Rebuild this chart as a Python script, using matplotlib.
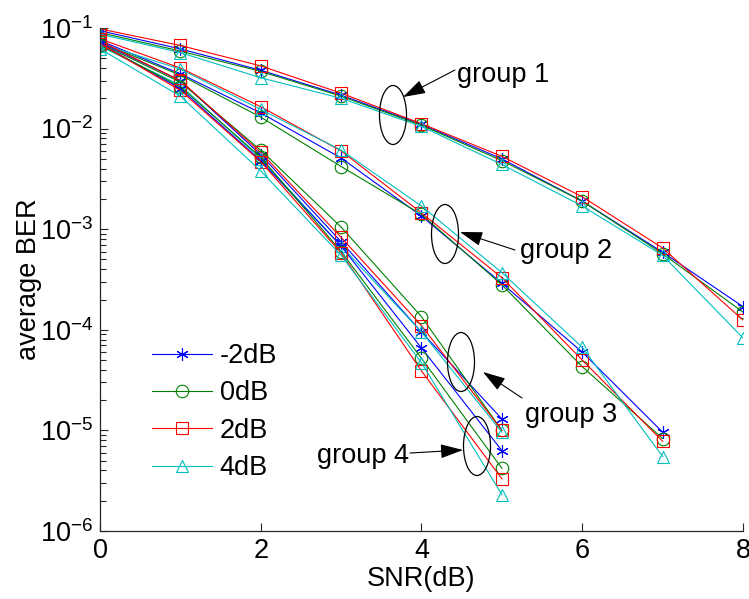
import matplotlib
matplotlib.use('Agg')
import matplotlib.pyplot as plt
from matplotlib.patches import Ellipse

plt.rcParams['font.family'] = ['Liberation Sans', 'DejaVu Sans']
plt.rcParams['mathtext.fontset'] = 'custom'
plt.rcParams['mathtext.rm'] = 'Liberation Sans'
plt.rcParams['mathtext.it'] = 'Liberation Sans:italic'
plt.rcParams['mathtext.bf'] = 'Liberation Sans:bold'
plt.rcParams['axes.unicode_minus'] = False

labels = ['-2dB', '0dB', '2dB', '4dB']

snr1 = [0, 1, 2, 3, 4, 5, 6, 7, 8]
snr2 = [0, 1, 2, 3, 4, 5, 6, 7]
snr3 = [0, 1, 2, 3, 4, 5]
snr4 = [0, 1, 2, 3, 4, 5]

# group 1
g1_m2 = [0.094, 0.062, 0.038, 0.0215, 0.0110, 0.0050, 0.0019, 0.00059, 0.00017]
g1_0 = [0.090, 0.059, 0.037, 0.0210, 0.0108, 0.0048, 0.0019, 0.00057, 0.00015]
g1_2 = [0.098, 0.067, 0.042, 0.0225, 0.0112, 0.0053, 0.0021, 0.00065, 0.000125]
g1_4 = [0.087, 0.057, 0.032, 0.0200, 0.0105, 0.0044, 0.0017, 0.00055, 0.000083]

# group 2
g2_m2 = [0.075, 0.035, 0.0143, 0.0051, 0.00135, 0.00029, 0.000060, 0.0000096]
g2_0 = [0.072, 0.034, 0.0130, 0.0042, 0.00140, 0.00028, 0.000043, 0.0000083]
g2_2 = [0.078, 0.040, 0.0165, 0.0060, 0.00145, 0.00033, 0.000050, 0.0000078]
g2_4 = [0.070, 0.039, 0.0155, 0.0061, 0.00170, 0.00037, 0.000067, 0.0000055]

# group 3
g3_m2 = [0.072, 0.030, 0.0055, 0.00075, 0.000095, 0.000013]
g3_0 = [0.070, 0.029, 0.0061, 0.00105, 0.000135, 0.0000100]
g3_2 = [0.074, 0.030, 0.0058, 0.00083, 0.000110, 0.0000100]
g3_4 = [0.066, 0.027, 0.0050, 0.00068, 0.000095, 0.0000096]

# group 4
g4_m2 = [0.070, 0.025, 0.0048, 0.00068, 0.000066, 0.0000063]
g4_0 = [0.068, 0.026, 0.0052, 0.00060, 0.000052, 0.0000042]
g4_2 = [0.070, 0.024, 0.0047, 0.00058, 0.000039, 0.0000033]
g4_4 = [0.062, 0.021, 0.0038, 0.00055, 0.000047, 0.0000023]

colors = ['#0000FF', '#008000', '#FF0000', '#00BFBF']
markers = [(6, 2, 0), 'o', 's', '^']

groups = [
    (snr1, [g1_m2, g1_0, g1_2, g1_4]),
    (snr2, [g2_m2, g2_0, g2_2, g2_4]),
    (snr3, [g3_m2, g3_0, g3_2, g3_4]),
    (snr4, [g4_m2, g4_0, g4_2, g4_4]),
]

W, H = 749, 599
fig = plt.figure(figsize=(W / 100, H / 100), dpi=100)
ax = fig.add_axes([100 / W, 1 - 531 / H, 643 / W, 503 / H])

for gi, (x, series) in enumerate(groups):
    for k, y in enumerate(series):
        ax.plot(x, y, color=colors[k], marker=markers[k], markersize=9,
                markerfacecolor='none', markeredgewidth=0.8, linewidth=0.8,
                label=labels[k] if gi == 0 else None)

ax.set_yscale('log')
ax.set_xlim(0, 8)
ax.set_ylim(1e-6, 1e-1)
ax.set_xticks([0, 2, 4, 6, 8])
ax.spines['top'].set_visible(False)
ax.spines['right'].set_visible(False)
for s in ['left', 'bottom']:
    ax.spines[s].set_color('#262626')
    ax.spines[s].set_linewidth(0.9)
ax.tick_params(which='both', direction='in', top=False, right=False,
               color='#262626', labelsize=19.5, width=0.8)
ax.tick_params(which='major', length=6, pad=5)
ax.tick_params(which='minor', length=4)

ax.set_xlabel('SNR(dB)', fontsize=19.5)
ax.set_ylabel('average BER', fontsize=19.5)
ax.xaxis.set_label_coords(0.5, -0.07)
ax.yaxis.set_label_coords(-0.09, 0.5)

leg = ax.legend(loc='upper left', bbox_to_anchor=(152 / W, 1 - 343 / H),
                bbox_transform=fig.transFigure, frameon=False, fontsize=19.5,
                borderpad=0, borderaxespad=0, handlelength=2.2,
                handletextpad=0.3, labelspacing=0.42)

# ellipses marking the groups (pixel positions, top-left origin)
ellipses = [(393, 115), (445, 234), (461, 362), (477, 446)]
for cx, cy in ellipses:
    fig.patches.append(Ellipse((cx / W, 1 - cy / H), 27 / W, 59 / H,
                               transform=fig.transFigure, fill=False,
                               edgecolor='black', linewidth=0.9))

texts = [('group 1', 457, 75), ('group 2', 520, 251),
         ('group 3', 525, 415), ('group 4', 317, 456)]
for t, tx, ty in texts:
    fig.text(tx / W, 1 - ty / H, t, fontsize=19.5, ha='left', va='center')

arrows = [((455, 70), (403, 97)), ((515, 250), (460, 232)),
          ((522, 398), (483, 372)), ((410, 453), (463, 450))]
for (x0, y0), (x1, y1) in arrows:
    ax.annotate('', xy=(x1, H - y1), xytext=(x0, H - y0),
                xycoords='figure pixels', textcoords='figure pixels',
                arrowprops=dict(arrowstyle='-|>,head_length=0.7,head_width=0.22',
                                color='black', lw=0.8, shrinkA=0, shrinkB=0,
                                mutation_scale=20))

fig.savefig('out.png', dpi=100)
